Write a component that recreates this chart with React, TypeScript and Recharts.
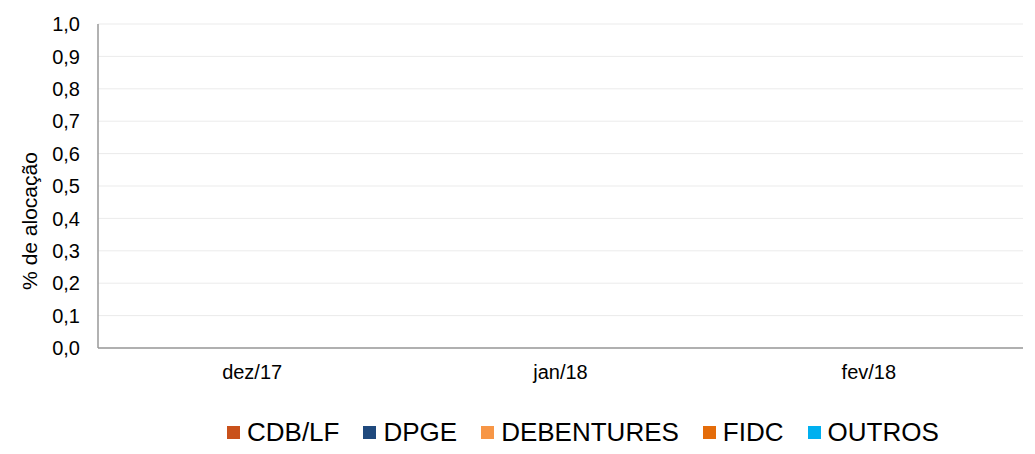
import { BarChart, Bar, XAxis, YAxis, CartesianGrid, Legend } from 'recharts';

const months = ["dez/17", "jan/18", "fev/18"];
const cdbLf = [0, 0, 0];
const dpge = [0, 0, 0];
const debentures = [0, 0, 0];
const fidc = [0, 0, 0];
const outros = [0, 0, 0];
const yTicks = [0, 0.1, 0.2, 0.3, 0.4, 0.5, 0.6, 0.7, 0.8, 0.9, 1.0];

const SERIES = [
  { key: "cdbLf", name: "CDB/LF", color: "#C9511B" },
  { key: "dpge", name: "DPGE", color: "#1F497D" },
  { key: "debentures", name: "DEBENTURES", color: "#F79646" },
  { key: "fidc", name: "FIDC", color: "#E46C0A" },
  { key: "outros", name: "OUTROS", color: "#00B0F0" },
];

const data = months.map((m, i) => ({
  month: m,
  cdbLf: cdbLf[i],
  dpge: dpge[i],
  debentures: debentures[i],
  fidc: fidc[i],
  outros: outros[i],
}));

const FONT = '"Liberation Sans", Arial, sans-serif';

function renderLegend() {
  return (
    <div style={{ display: 'flex', justifyContent: 'flex-start', paddingLeft: 227, fontFamily: FONT, fontSize: 26, color: '#000', lineHeight: '30px' }}>
      {SERIES.map((s) => (
        <div key={s.key} style={{ display: 'flex', alignItems: 'center', marginRight: 24 }}>
          <span style={{ display: 'inline-block', width: 13, height: 13, background: s.color, marginRight: 7 }} />
          <span>{s.name}</span>
        </div>
      ))}
    </div>
  );
}

function AxisTitle() {
  return (
    <text
      x={29}
      y={221}
      transform="rotate(-90, 29, 221)"
      textAnchor="middle"
      dominantBaseline="central"
      fill="#000"
      fontSize={21}
      fontFamily={FONT}
    >
      % de alocação
    </text>
  );
}

export default function App() {
  return (
    <div style={{ position: 'absolute', left: 0, top: 0, background: '#fff' }}>
      <BarChart width={1035} height={454} data={data} margin={{ top: 24, right: 12, left: 0, bottom: 76 }}>
        <CartesianGrid vertical={false} stroke="#EBEBEB" strokeWidth={1} />
        <XAxis
          dataKey="month"
          height={30}
          tickLine={false}
          tickSize={0}
          tickMargin={17}
          stroke="#999999"
          strokeWidth={1.5}
          tick={{ fill: '#000', fontSize: 20, fontFamily: FONT }}
        />
        <YAxis
          width={98}
          domain={[0, 1]}
          ticks={yTicks}
          interval={0}
          tickLine={false}
          tickSize={0}
          tickMargin={18}
          stroke="#999999"
          strokeWidth={1.5}
          tickFormatter={(v: number) => v.toFixed(1).replace('.', ',')}
          tick={{ fill: '#000', fontSize: 20, fontFamily: FONT }}
          label={<AxisTitle />}
        />
        <Legend
          verticalAlign="middle"
          content={renderLegend}
          wrapperStyle={{ position: 'absolute', top: 417, left: 0, width: 1035 }}
        />
        {SERIES.map((s) => (
          <Bar key={s.key} dataKey={s.key} name={s.name} stackId="a" fill={s.color} isAnimationActive={false} />
        ))}
      </BarChart>
    </div>
  );
}
